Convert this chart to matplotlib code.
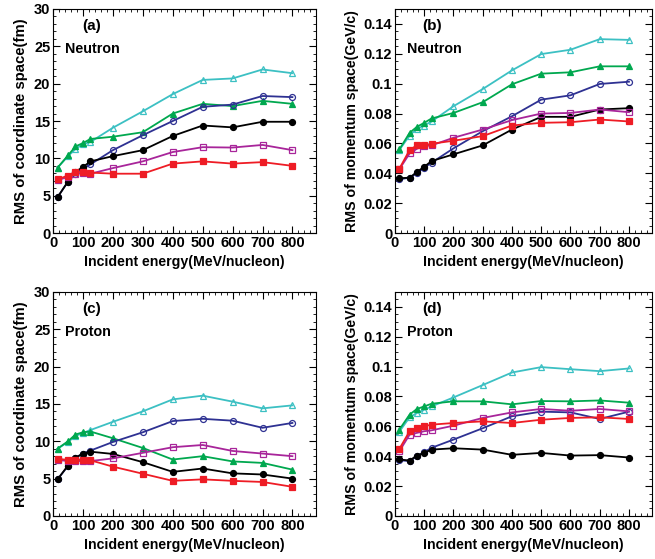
import matplotlib
matplotlib.use('Agg')
import matplotlib.pyplot as plt
from matplotlib.ticker import MultipleLocator

plt.rcParams['font.family'] = ['Liberation Sans Narrow', 'Liberation Sans', 'DejaVu Sans']
plt.rcParams['font.weight'] = 'bold'

energy = [15, 50, 75, 100, 125, 200, 300, 400, 500, 600, 700, 800]

# (a) neutron, coordinate space (fm)
a_cyan = [8.75, 10.3, 11.25, 11.9, 12.2, 14.1, 16.3, 18.6, 20.5, 20.7, 21.9, 21.4]
a_green = [8.75, 10.4, 11.6, 12.05, 12.6, 12.9, 13.5, 16.0, 17.3, 17.0, 17.7, 17.3]
a_blue = [4.8, 6.9, 7.95, 8.6, 9.2, 11.1, 13.1, 15.0, 16.9, 17.2, 18.35, 18.2]
a_black = [4.8, 6.9, 8.2, 8.85, 9.6, 10.3, 11.1, 13.0, 14.4, 14.15, 14.9, 14.9]
a_magenta = [7.1, 7.5, 7.95, 8.0, 7.95, 8.7, 9.6, 10.85, 11.5, 11.45, 11.8, 11.1]
a_red = [7.2, 7.7, 8.2, 8.2, 8.1, 7.95, 7.95, 9.3, 9.6, 9.3, 9.5, 9.0]

# (b) neutron, momentum space (GeV/c)
b_cyan = [0.0556, 0.0653, 0.0698, 0.072, 0.0747, 0.0849, 0.0964, 0.1089, 0.1198, 0.1227, 0.1298, 0.1293]
b_green = [0.056, 0.0671, 0.0711, 0.0738, 0.0767, 0.0804, 0.0876, 0.0996, 0.1067, 0.1076, 0.1116, 0.1116]
b_blue = [0.036, 0.0371, 0.040, 0.0438, 0.0471, 0.0567, 0.0682, 0.0782, 0.0893, 0.0922, 0.0998, 0.1013]
b_black = [0.0367, 0.0371, 0.0409, 0.0444, 0.0482, 0.0527, 0.0587, 0.0693, 0.0778, 0.0778, 0.0827, 0.0836]
b_magenta = [0.0427, 0.0533, 0.0564, 0.0582, 0.0587, 0.0638, 0.0693, 0.0756, 0.080, 0.0804, 0.0827, 0.0809]
b_red = [0.0431, 0.0556, 0.0587, 0.0587, 0.0598, 0.0618, 0.0649, 0.072, 0.0738, 0.0742, 0.076, 0.0747]

# (c) proton, coordinate space (fm)
c_cyan = [9.0, 9.9, 10.7, 11.1, 11.5, 12.6, 14.0, 15.6, 16.1, 15.3, 14.4, 14.8]
c_green = [9.0, 10.0, 10.9, 11.2, 11.3, 10.4, 9.1, 7.55, 8.0, 7.3, 7.1, 6.2]
c_blue = [4.9, 6.7, 7.8, 8.35, 8.75, 9.9, 11.2, 12.7, 13.0, 12.75, 11.8, 12.45]
c_black = [4.9, 6.75, 7.8, 8.35, 8.6, 8.3, 7.2, 5.9, 6.35, 5.7, 5.55, 5.0]
c_magenta = [7.5, 7.35, 7.35, 7.35, 7.35, 7.7, 8.45, 9.2, 9.5, 8.7, 8.35, 8.0]
c_red = [7.65, 7.5, 7.5, 7.5, 7.45, 6.6, 5.65, 4.7, 4.9, 4.7, 4.55, 3.9]

# (d) proton, momentum space (GeV/c)
d_cyan = [0.0564, 0.066, 0.0689, 0.0711, 0.0733, 0.0793, 0.0876, 0.096, 0.0996, 0.0982, 0.0969, 0.0987]
d_green = [0.0578, 0.0678, 0.0716, 0.0733, 0.0751, 0.0767, 0.0767, 0.0747, 0.0769, 0.0767, 0.0773, 0.0758]
d_blue = [0.0373, 0.0367, 0.040, 0.0427, 0.0456, 0.0511, 0.0587, 0.0667, 0.0698, 0.0693, 0.0649, 0.0698]
d_black = [0.0378, 0.0371, 0.0404, 0.0422, 0.0444, 0.0453, 0.0444, 0.0409, 0.0422, 0.0404, 0.0407, 0.0391]
d_magenta = [0.0433, 0.0544, 0.0556, 0.0567, 0.0573, 0.0604, 0.0656, 0.0693, 0.0716, 0.0704, 0.0716, 0.070]
d_red = [0.0449, 0.0567, 0.0589, 0.060, 0.0611, 0.0622, 0.0633, 0.0622, 0.0644, 0.0656, 0.066, 0.0649]

# color, marker, filled
styles = [
    ('#3cc0c3', '^', False),
    ('#00a84f', '^', True),
    ('#2e3192', 'o', False),
    ('#000000', 'o', True),
    ('#a8259a', 's', False),
    ('#ee1c25', 's', True),
]

panels = [
    ('(a)', 'Neutron', [a_cyan, a_green, a_blue, a_black, a_magenta, a_red], 'coord'),
    ('(b)', 'Neutron', [b_cyan, b_green, b_blue, b_black, b_magenta, b_red], 'mom'),
    ('(c)', 'Proton', [c_cyan, c_green, c_blue, c_black, c_magenta, c_red], 'coord'),
    ('(d)', 'Proton', [d_cyan, d_green, d_blue, d_black, d_magenta, d_red], 'mom'),
]

fig = plt.figure(figsize=(6.55, 5.59), dpi=100)
boxes = [
    [0.081, 0.583, 0.402, 0.401],
    [0.603, 0.583, 0.393, 0.401],
    [0.081, 0.077, 0.402, 0.401],
    [0.603, 0.077, 0.393, 0.401],
]

for box, (tag, name, series, kind) in zip(boxes, panels):
    ax = fig.add_axes(box)
    for ys, (col, mk, filled) in zip(series, styles):
        ax.plot(energy, ys, color=col, marker=mk, lw=1.3, ms=4.3,
                markerfacecolor=col if filled else 'none',
                markeredgecolor=col, markeredgewidth=0.9)
    ax.set_xlim(0, 880)
    ax.xaxis.set_major_locator(MultipleLocator(100))
    ax.xaxis.set_minor_locator(MultipleLocator(20))
    if kind == 'coord':
        ax.set_ylim(0, 30)
        ax.yaxis.set_major_locator(MultipleLocator(5))
        ax.yaxis.set_minor_locator(MultipleLocator(1))
        ax.set_ylabel('RMS of coordinate space(fm)', fontsize=10.7, fontweight='bold', labelpad=4)
    else:
        ax.set_ylim(0, 0.15)
        ax.set_yticks([0, 0.02, 0.04, 0.06, 0.08, 0.1, 0.12, 0.14])
        ax.set_yticklabels(['0', '0.02', '0.04', '0.06', '0.08', '0.1', '0.12', '0.14'])
        ax.yaxis.set_minor_locator(MultipleLocator(0.005))
        ax.set_ylabel('RMS of momentum space(GeV/c)', fontsize=10.2, fontweight='bold', labelpad=3)
    ax.set_xlabel('Incident energy(MeV/nucleon)', fontsize=10.2, fontweight='bold', labelpad=4)
    ax.tick_params(which='both', direction='in', top=True, right=True, labelsize=10.5, pad=2)
    ax.tick_params(which='major', length=5)
    ax.tick_params(which='minor', length=2.5)
    for lab in ax.get_xticklabels() + ax.get_yticklabels():
        lab.set_fontweight('bold')
    ax.text(0.145, 0.925, tag, transform=ax.transAxes, ha='center', va='center',
            fontsize=11, fontweight='bold')
    ax.text(0.046, 0.822, name, transform=ax.transAxes, ha='left', va='center',
            fontsize=10.3, fontweight='bold')

fig.savefig('out.png', dpi=100)
